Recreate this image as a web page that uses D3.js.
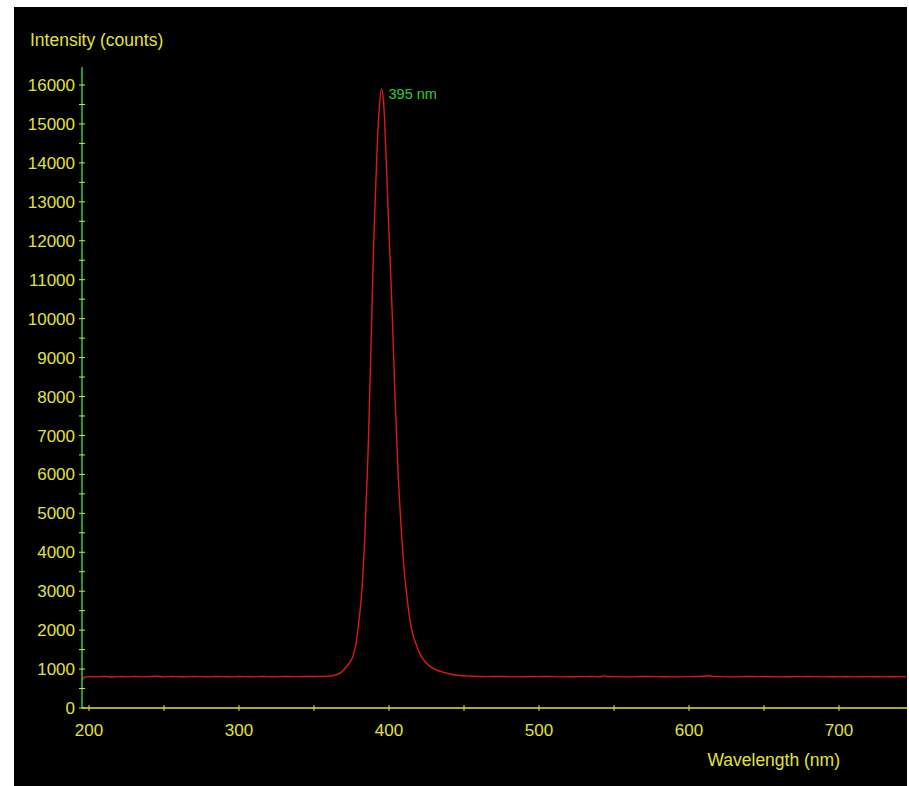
<!DOCTYPE html>
<html>
<head>
<meta charset="utf-8">
<script src="https://cdn.jsdelivr.net/npm/d3@7"></script>
<style>
  body { margin: 0; background: #fff; }
  svg { display: block; font-family: "Liberation Sans", Arial, sans-serif; }
</style>
</head>
<body>
<svg id="plot" width="909" height="786"></svg>
<script>
// spectrum (wavelength nm, intensity counts)
const wavelength = [195.5, 197, 200, 205, 210, 215, 220, 225, 230, 235, 240, 245, 250, 255, 260, 265, 270, 275, 280, 285, 290, 295, 300,
  305, 310, 315, 320, 325, 330, 335, 340, 345, 350, 355, 360, 363, 366, 368, 370, 372, 374, 376, 378, 380, 382, 384, 386, 388,
  390, 392, 393.5, 395, 396.5, 398, 400, 402, 404, 406, 408, 410, 412, 414, 416, 418, 420, 422, 425, 428, 432, 436, 440, 447, 455,
  465, 475, 485, 495, 505, 515, 525, 535, 540, 543, 546, 550, 560, 570, 580, 590, 600, 605, 610, 613, 616, 620, 630, 640, 650,
  660, 670, 680, 690, 700, 710, 720, 730, 740, 745];
const intensity = [720, 790, 805, 800, 810, 795, 805, 800, 810, 800, 805, 815, 800, 810, 805, 800, 810, 805, 800, 810, 805, 800, 810,
  805, 800, 810, 805, 800, 810, 805, 805, 810, 810, 812, 818, 835, 870, 915, 990, 1080, 1180, 1330, 1650, 2250, 3050, 4500, 6500, 9300,
  12200, 14300, 15400, 15900, 15500, 14200, 12200, 10300, 8000, 6100, 4700, 3600, 2850, 2250, 1870, 1650, 1440, 1300, 1150, 1050, 970, 920, 880, 835, 815,
  805, 810, 800, 805, 810, 800, 805, 810, 800, 825, 810, 805, 800, 810, 805, 800, 805, 810, 815, 830, 812, 805, 800, 810, 805,
  800, 805, 810, 800, 805, 800, 805, 800, 805, 800];

const yMajor = d3.range(0, 16001, 1000);
const yMinor = d3.range(500, 16000, 1000);
const xMajor = [200, 300, 400, 500, 600, 700];
const xMinor = [250, 350, 450, 550, 650, 750];

const peakLabel = { wl: 395, value: 15900, text: "395 nm" };

const yellow = "#e2e23c";
const green = "#33cc33";

const svg = d3.select("#plot");

svg.append("rect")
  .attr("x", 14).attr("y", 7)
  .attr("width", 893).attr("height", 779)
  .attr("fill", "#000");

const x = d3.scaleLinear().domain([200, 700]).range([89, 839]);
const y = d3.scaleLinear().domain([0, 16000]).range([708, 85]);

const x0 = 82, xEnd = 907;

// spectrum
const line = d3.line()
  .x((d, i) => x(wavelength[i]))
  .y(d => y(d))
  .curve(d3.curveMonotoneX);

svg.append("path")
  .datum(intensity)
  .attr("d", line)
  .attr("fill", "none")
  .attr("stroke", "#e01818")
  .attr("stroke-width", 1.4);

// x axis
svg.append("line")
  .attr("x1", x0).attr("x2", xEnd)
  .attr("y1", y(0)).attr("y2", y(0))
  .attr("stroke", yellow).attr("stroke-width", 1.5);

svg.append("g").selectAll("line")
  .data(xMajor.concat(xMinor).filter(d => x(d) < xEnd))
  .enter().append("line")
    .attr("x1", d => x(d)).attr("x2", d => x(d))
    .attr("y1", y(0) - 3).attr("y2", y(0) + 3)
    .attr("stroke", yellow).attr("stroke-width", 1);

svg.append("g").selectAll("text")
  .data(xMajor)
  .enter().append("text")
    .attr("x", d => x(d))
    .attr("y", y(0) + 28)
    .attr("text-anchor", "middle")
    .attr("fill", yellow)
    .style("font-size", "17px")
    .text(d => d);

svg.append("text")
  .attr("x", 840).attr("y", 766)
  .attr("text-anchor", "end")
  .attr("fill", yellow)
  .style("font-size", "17.5px")
  .text("Wavelength (nm)");

// y axis
svg.append("line")
  .attr("x1", x0).attr("x2", x0)
  .attr("y1", 67).attr("y2", y(0))
  .attr("stroke", green).attr("stroke-width", 1.5);

svg.append("g").selectAll("line")
  .data(yMajor.concat(yMinor))
  .enter().append("line")
    .attr("x1", x0 - 3).attr("x2", x0 + 3)
    .attr("y1", d => y(d)).attr("y2", d => y(d))
    .attr("stroke", yellow).attr("stroke-width", 1);

svg.append("g").selectAll("text")
  .data(yMajor)
  .enter().append("text")
    .attr("x", x0 - 7)
    .attr("y", d => y(d))
    .attr("dy", "0.36em")
    .attr("text-anchor", "end")
    .attr("fill", yellow)
    .style("font-size", "17px")
    .text(d => d);

svg.append("text")
  .attr("x", 30).attr("y", 46)
  .attr("fill", yellow)
  .style("font-size", "17.5px")
  .text("Intensity (counts)");

// peak annotation
svg.append("text")
  .attr("x", x(peakLabel.wl) + 7)
  .attr("y", y(peakLabel.value) + 10)
  .attr("fill", green)
  .style("font-size", "14.5px")
  .text(peakLabel.text);
</script>
</body>
</html>
